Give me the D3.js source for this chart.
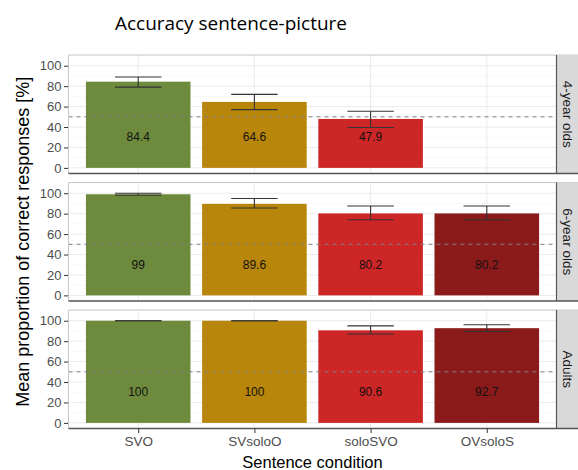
<!DOCTYPE html>
<html><head><meta charset="utf-8">
<script src="https://cdn.jsdelivr.net/npm/d3@7"></script>
<style>body{margin:0;background:#fff}svg{display:block}</style>
</head><body>
<svg id="chart" width="578" height="470"></svg>
<script>
const categories = ["SVO", "SVsoloO", "soloSVO", "OVsoloS"];
const groups = ["4-year olds", "6-year olds", "Adults"];
const colors = ["#6E8B3D", "#B8860B", "#CD2626", "#8B1A1A"];
const means4 = [84.4, 64.6, 47.9, null];
const lower4 = [79.1, 57.0, 39.5, null];
const upper4 = [89.0, 72.0, 55.5, null];
const means6 = [99, 89.6, 80.2, 80.2];
const lower6 = [98.0, 85.5, 74.0, 74.0];
const upper6 = [100.0, 94.8, 87.5, 87.5];
const meansA = [100, 100, 90.6, 92.7];
const lowerA = [100, 100, 87.0, 89.5];
const upperA = [100, 100, 95.0, 96.0];
const yTicks = [0, 20, 40, 60, 80, 100];
const yMinor = [10, 30, 50, 70, 90, 110];
const chance = 50;
const labelY = 30;

const panelData = [
  {name: groups[0], means: means4, lo: lower4, hi: upper4},
  {name: groups[1], means: means6, lo: lower6, hi: upper6},
  {name: groups[2], means: meansA, lo: lowerA, hi: upperA}
];

const svg = d3.select("#chart");
const left = 68.5, right = 556.5, stripW = 22;
const tops = [55, 182.5, 310], ph = 118.5;
const font = "'Liberation Sans', Arial, sans-serif";

// ggplot discrete axis: 4 categories, 0.6 expansion each side
const unit = (right - left) / (categories.length - 1 + 1.2);
const xc = c => left + (0.6 + categories.indexOf(c)) * unit;

panelData.forEach((p, i) => {
  const top = tops[i], bottom = top + ph;
  const y = d3.scaleLinear().domain([-5.5, 110.5]).range([bottom, top]);
  const g = svg.append("g");
  g.append("rect").attr("x", left).attr("y", top).attr("width", right - left).attr("height", ph).attr("fill", "#fff");
  g.selectAll(".mn").data(yMinor.filter(v => v <= 110.5)).join("line")
    .attr("x1", left).attr("x2", right).attr("y1", d => y(d)).attr("y2", d => y(d))
    .attr("stroke", "#F3F3F3").attr("stroke-width", 0.6);
  g.selectAll(".mj").data(yTicks).join("line")
    .attr("x1", left).attr("x2", right).attr("y1", d => y(d)).attr("y2", d => y(d))
    .attr("stroke", "#EBEBEB").attr("stroke-width", 1);
  g.selectAll(".vx").data(categories).join("line")
    .attr("x1", d => xc(d)).attr("x2", d => xc(d)).attr("y1", top).attr("y2", bottom)
    .attr("stroke", "#EBEBEB").attr("stroke-width", 1);
  const rows = categories.map((c, k) => ({c, k, m: p.means[k], lo: p.lo[k], hi: p.hi[k]})).filter(r => r.m != null);
  const bw = unit * 0.9;
  g.selectAll(".bar").data(rows).join("rect")
    .attr("x", r => xc(r.c) - bw / 2).attr("width", bw)
    .attr("y", r => y(r.m)).attr("height", r => y(0) - y(r.m))
    .attr("fill", r => colors[r.k]);
  g.append("line").attr("x1", left).attr("x2", right).attr("y1", y(chance)).attr("y2", y(chance))
    .attr("stroke", "#7F7F7F").attr("stroke-width", 1).attr("stroke-dasharray", "4,4");
  const ew = unit * 0.4;
  rows.forEach(r => {
    const eg = g.append("g").attr("stroke", "#333").attr("stroke-width", 1.1);
    eg.append("line").attr("x1", xc(r.c)).attr("x2", xc(r.c)).attr("y1", y(r.lo)).attr("y2", y(r.hi));
    eg.append("line").attr("x1", xc(r.c) - ew / 2).attr("x2", xc(r.c) + ew / 2).attr("y1", y(r.lo)).attr("y2", y(r.lo));
    eg.append("line").attr("x1", xc(r.c) - ew / 2).attr("x2", xc(r.c) + ew / 2).attr("y1", y(r.hi)).attr("y2", y(r.hi));
  });
  g.selectAll(".lab").data(rows).join("text")
    .attr("x", r => xc(r.c)).attr("y", y(labelY)).attr("dy", "0.35em")
    .attr("text-anchor", "middle").attr("font-family", font).attr("font-size", 12).attr("fill", "#111")
    .text(r => r.m);
  const ax = g.append("g").attr("transform", `translate(${left},0)`)
    .call(d3.axisLeft(y).tickValues(yTicks).tickSize(4.5).tickPadding(2.5));
  ax.select(".domain").remove();
  ax.selectAll(".tick line").attr("stroke", "#333");
  ax.selectAll(".tick text").attr("font-family", font).attr("font-size", 13).attr("fill", "#4D4D4D");
  g.append("line").attr("x1", left).attr("x2", right + stripW).attr("y1", top).attr("y2", top).attr("stroke", "#C8C8C8");
  g.append("line").attr("x1", left).attr("x2", left).attr("y1", top).attr("y2", bottom).attr("stroke", "#C8C8C8");
  g.append("rect").attr("x", right).attr("y", top).attr("width", stripW).attr("height", ph).attr("fill", "#D9D9D9");
  g.append("text").attr("transform", `translate(${right + stripW / 2},${top + ph / 2}) rotate(90)`)
    .attr("text-anchor", "middle").attr("dy", "0.35em").attr("font-family", font).attr("font-size", 13.5)
    .attr("fill", "#1A1A1A").text(p.name);
  g.append("line").attr("x1", left).attr("x2", right + stripW).attr("y1", bottom).attr("y2", bottom).attr("stroke", "#555").attr("stroke-width", 1.5);
  g.append("line").attr("x1", right).attr("x2", right).attr("y1", top).attr("y2", bottom).attr("stroke", "#555").attr("stroke-width", 1.2);

  if (i === panelData.length - 1) {
    const xa = svg.append("g").attr("transform", `translate(0,${bottom})`)
      .call(d3.axisBottom(d3.scalePoint().domain(categories).range([xc(categories[0]), xc(categories[3])])).tickSize(4.5).tickPadding(3));
    xa.select(".domain").remove();
    xa.selectAll(".tick line").attr("stroke", "#333");
    xa.selectAll(".tick text").attr("font-family", font).attr("font-size", 13.5).attr("fill", "#4D4D4D");
  }
});

svg.append("text").attr("x", (left + right) / 2).attr("y", 468).attr("text-anchor", "middle")
  .attr("font-family", font).attr("font-size", 16.5).attr("fill", "#000").text("Sentence condition");
svg.append("text").attr("transform", `translate(29,${(tops[0] + tops[2] + ph) / 2}) rotate(-90)`)
  .attr("text-anchor", "middle").attr("font-family", font).attr("font-size", 18).attr("fill", "#000")
  .text("Mean proportion of correct responses [%]");
const title = svg.append("text").attr("x", 115).attr("y", 30)
  .attr("font-family", "'Open Sans', Lato, sans-serif").attr("font-size", 20).attr("fill", "#000")
  .text("Accuracy sentence-picture");
const tw = title.node().getComputedTextLength();
title.attr("font-size", 20 * 232 / tw);
</script>
</body></html>
